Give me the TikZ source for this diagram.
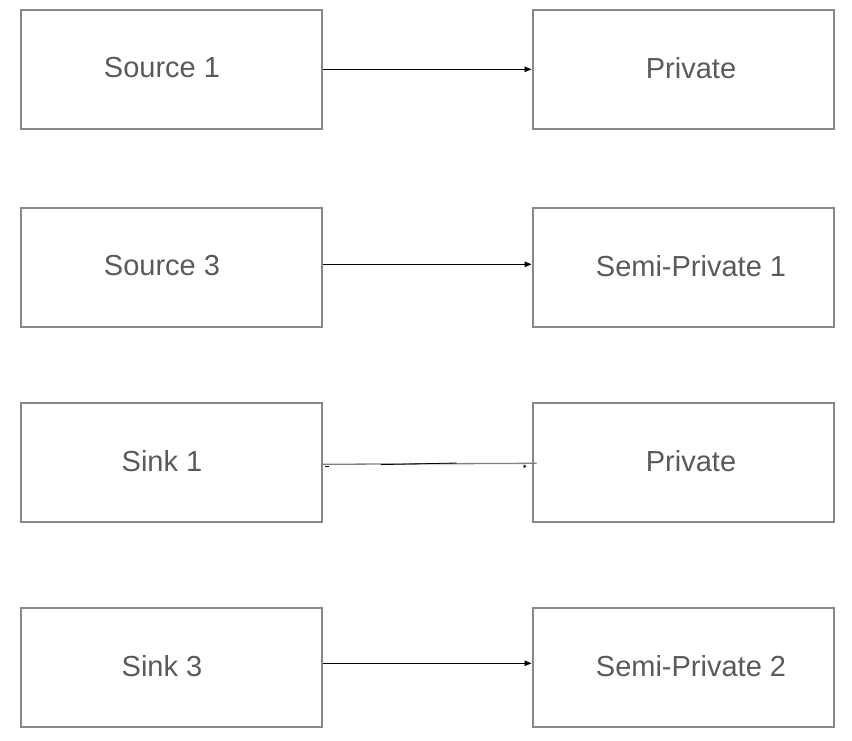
\documentclass[tikz,border=0pt]{standalone}
\usepackage{fontspec}
\setmainfont{Liberation Sans}
\usetikzlibrary{arrows.meta}
\definecolor{boxgray}{HTML}{87888A}
\definecolor{txtgray}{HTML}{5A5A5A}
\definecolor{linegray}{HTML}{808080}
\tikzset{
  box/.style={draw=boxgray, line width=2.6pt, minimum width=301pt, minimum height=119pt, inner sep=0pt, anchor=north west},
  lbl/.style={font=\fontsize{29}{32}\selectfont, text=txtgray, inner sep=0pt},
  conn/.style={draw=black, line width=0.9pt, -{Triangle[length=7pt,width=5.5pt]}},
}
\begin{document}
\begin{tikzpicture}[x=1pt,y=-1pt]
\useasboundingbox (0,0) rectangle (852,740);
% left boxes
\node[box] (src1) at (19.5,8.5) {};
\node[box] (src3) at (19.5,206.5) {};
\node[box] (snk1) at (19.5,401.5) {};
\node[box] (snk3) at (19.5,606.5) {};
% right boxes
\node[box] (prv1) at (531.5,8.5) {};
\node[box] (semi1) at (531.5,206.5) {};
\node[box] (prv2) at (531.5,401.5) {};
\node[box] (semi2) at (531.5,606.5) {};
% labels
\node[lbl] (t1) at (162,68) {Source 1};
\node[lbl] (t2) at (162,266) {Source 3};
\node[lbl] (t3) at (162,461) {Sink 1};
\node[lbl] (t4) at (162,666) {Sink 3};
\node[lbl] (t5) at (691,68) {Private};
\node[lbl] (t6) at (691,266) {Semi-Private 1};
\node[lbl] (t7) at (691,461) {Private};
\node[lbl] (t8) at (691,666) {Semi-Private 2};
% connectors
\draw[conn] ([yshift=0pt]src1.east) -- ([yshift=0pt]prv1.west);
\draw[conn] ([yshift=3pt]src3.east) -- ([yshift=3pt]semi1.west);
\draw[conn] ([yshift=4pt]snk3.east) -- ([yshift=4pt]semi2.west);
% odd connector in row 3
\coordinate (c3a) at ([xshift=-2pt,yshift=-2pt]snk1.east);
\coordinate (c3b) at ([xshift=5pt,yshift=-1pt]prv2.west);
\draw[linegray, line width=1.3pt] (c3a) -- (c3b);
\draw[black, line width=0.8pt] ([xshift=60pt,yshift=-0.3pt]c3a) -- ([xshift=-80pt,yshift=0.3pt]c3b);
\coordinate (m3a) at ([xshift=2pt,yshift=-4pt]snk1.east);
\draw[black, line width=1pt] (m3a) -- ++(4,0);
\coordinate (m3b) at ([xshift=-5pt,yshift=-4pt]prv2.west);
\fill[black] (m3b) -- ++(-3,-1.8) -- ++(0,3.6) -- cycle;
\end{tikzpicture}
\end{document}
